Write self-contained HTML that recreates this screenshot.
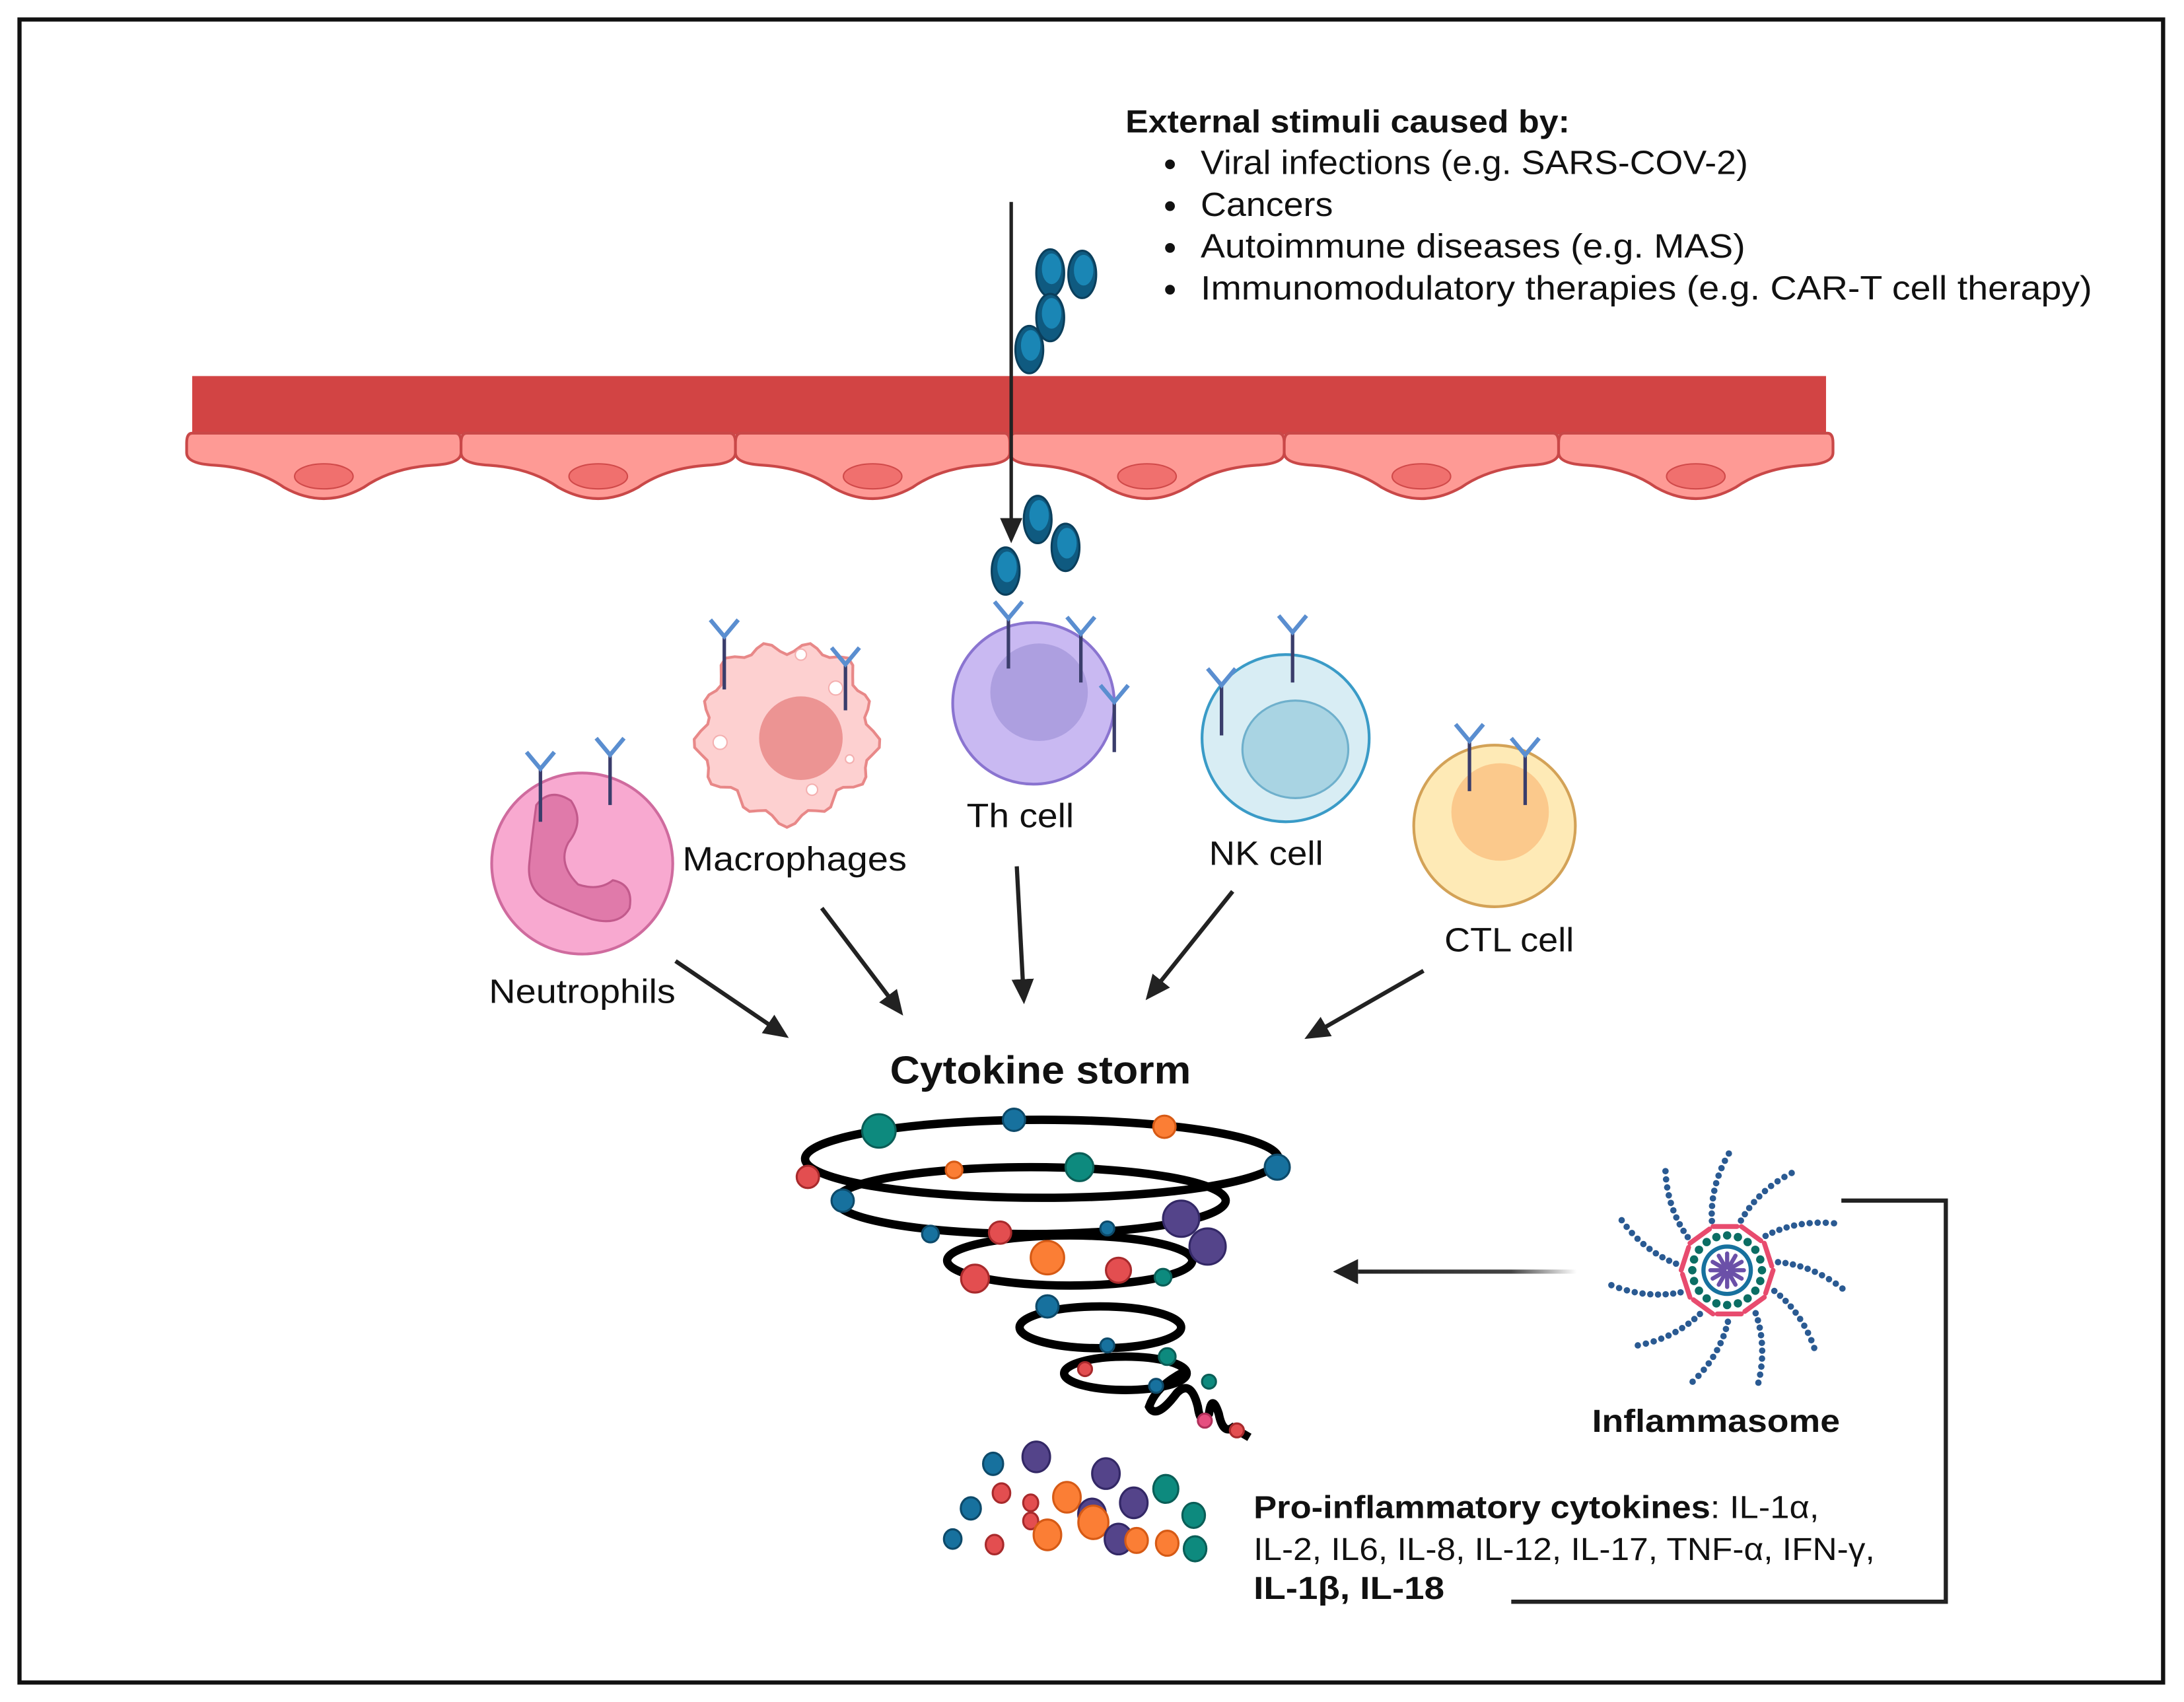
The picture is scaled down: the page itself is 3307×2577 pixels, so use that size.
<!DOCTYPE html>
<html><head><meta charset="utf-8"><style>
html,body{margin:0;padding:0;background:#fff}
svg{display:block}
text{font-family:"Liberation Sans",sans-serif;fill:#111}
</style></head><body>
<svg id="s" width="3307" height="2577" viewBox="0 0 1568 1222" preserveAspectRatio="none" xmlns="http://www.w3.org/2000/svg">
<defs>
<marker id="ah2" markerWidth="18" markerHeight="18" refX="14" refY="9" orient="auto" markerUnits="userSpaceOnUse" viewBox="0 0 18 18"><path d="M0,1 L18,9 L0,17 z" fill="#222"/></marker>
<linearGradient id="g1" gradientUnits="userSpaceOnUse" x1="975" y1="0" x2="1132" y2="0"><stop offset="0" stop-color="#222"/><stop offset="0.7" stop-color="#444"/><stop offset="1" stop-color="#fff"/></linearGradient>
</defs>
<rect x="14" y="14" width="1539" height="1194" fill="#fff" stroke="#111" stroke-width="3"/>

<text x="808" y="95" font-size="23" font-weight="bold" textLength="319" lengthAdjust="spacingAndGlyphs">External stimuli caused by:</text>
<g font-size="24">
<circle cx="840" cy="118" r="3.5" fill="#111"/><text x="862" y="125" textLength="393" lengthAdjust="spacingAndGlyphs">Viral infections (e.g. SARS-COV-2)</text>
<circle cx="840" cy="148" r="3.5" fill="#111"/><text x="862" y="155" textLength="95" lengthAdjust="spacingAndGlyphs">Cancers</text>
<circle cx="840" cy="178" r="3.5" fill="#111"/><text x="862" y="185" textLength="391" lengthAdjust="spacingAndGlyphs">Autoimmune diseases (e.g. MAS)</text>
<circle cx="840" cy="208" r="3.5" fill="#111"/><text x="862" y="215" textLength="640" lengthAdjust="spacingAndGlyphs">Immunomodulatory therapies  (e.g. CAR-T cell therapy)</text>
</g>

<rect x="138" y="270" width="1173" height="42" fill="#d24444"/>
<g id="cells"></g>

<line x1="726" y1="145" x2="726" y2="372" stroke="#222" stroke-width="2.5"/>
<path d="M718,372 L734,372 L726,390 z" fill="#222"/>

<g id="virus"></g>

<circle cx="418" cy="620" r="65" fill="#f8a9d0" stroke="#cf6b9e" stroke-width="2"/>
<path d="M385,578 Q395,565 410,575 Q420,590 408,605 Q400,620 415,635 Q430,640 440,632 Q455,635 452,652 Q445,665 425,660 Q410,655 395,648 Q378,640 380,620 Q382,600 385,578z" fill="#e07aaa" stroke="#c25a8c" stroke-width="1.5"/>
<path id="mac" fill="#fdd0d0" stroke="#e88888" stroke-width="2"/>
<circle cx="575" cy="530" r="30" fill="#ec9493"/>
<circle cx="517" cy="533" r="5" fill="#fff" stroke="#f4b0b0"/><circle cx="600" cy="494" r="5" fill="#fff" stroke="#f4b0b0"/><circle cx="575" cy="470" r="4" fill="#fff" stroke="#f4b0b0"/><circle cx="583" cy="567" r="4" fill="#fff" stroke="#f4b0b0"/><circle cx="610" cy="545" r="3" fill="#fff" stroke="#f4b0b0"/>
<circle cx="742" cy="505" r="58" fill="#c9b9f2" stroke="#8a74d0" stroke-width="2"/>
<circle cx="746" cy="497" r="35" fill="#ad9fe0"/>
<circle cx="923" cy="530" r="60" fill="#d8edf4" stroke="#3a9bc7" stroke-width="2"/>
<ellipse cx="930" cy="538" rx="38" ry="35" fill="#a9d4e3" stroke="#6fb0cc" stroke-width="1.5"/>
<circle cx="1073" cy="593" r="58" fill="#feeab6" stroke="#d3a257" stroke-width="2"/>
<circle cx="1077" cy="583" r="35" fill="#fbc98c"/>

<g id="rec"></g>

<g font-size="24">
<text x="351" y="720" textLength="134" lengthAdjust="spacingAndGlyphs">Neutrophils</text>
<text x="490" y="625" textLength="161" lengthAdjust="spacingAndGlyphs">Macrophages</text>
<text x="694" y="594" textLength="77" lengthAdjust="spacingAndGlyphs">Th cell</text>
<text x="868" y="621" textLength="82" lengthAdjust="spacingAndGlyphs">NK cell</text>
<text x="1037" y="683" textLength="93" lengthAdjust="spacingAndGlyphs">CTL cell</text>
</g>

<g stroke="#222" stroke-width="3" marker-end="url(#ah2)">
<line x1="485" y1="690" x2="563" y2="743"/>
<line x1="590" y1="652" x2="646" y2="726"/>
<line x1="730" y1="622" x2="735" y2="717"/>
<line x1="885" y1="640" x2="825" y2="715"/>
<line x1="1022" y1="697" x2="940" y2="744"/>
</g>

<text x="639" y="778" font-size="28" font-weight="bold" textLength="216" lengthAdjust="spacingAndGlyphs">Cytokine storm</text>

<g fill="none" stroke="#000" stroke-width="6">
<ellipse cx="748" cy="832" rx="170" ry="28"/>
<ellipse cx="740" cy="862" rx="140" ry="24"/>
<ellipse cx="768" cy="905" rx="88" ry="18"/>
<ellipse cx="790" cy="953" rx="58" ry="15"/>
<ellipse cx="808" cy="986" rx="44" ry="12"/>
<path d="M850,985 Q830,995 825,1010 Q830,1020 845,1000 Q855,990 860,1010 Q862,1025 868,1015 Q870,1000 875,1015 Q878,1030 885,1025 L897,1032"/>
</g>
<g id="dots"></g>
<g id="clus"></g>

<g id="infl"></g>
<text x="1143" y="1028" font-size="23" font-weight="bold" textLength="178" lengthAdjust="spacingAndGlyphs">Inflammasome</text>

<line x1="1132" y1="913" x2="975" y2="913" stroke="url(#g1)" stroke-width="3"/>
<path d="M975,904 L975,922 L957,913 z" fill="#222"/>
<path d="M1322,862 L1397,862 L1397,1150 L1085,1150" fill="none" stroke="#222" stroke-width="3"/>

<g font-size="23">
<text x="900" y="1090" textLength="406" lengthAdjust="spacingAndGlyphs"><tspan font-weight="bold">Pro-inflammatory cytokines</tspan>: IL-1α,</text>
<text x="900" y="1120" textLength="446" lengthAdjust="spacingAndGlyphs">IL-2, IL6, IL-8, IL-12, IL-17, TNF-α, IFN-γ,</text>
<text x="900" y="1148" font-weight="bold" textLength="137" lengthAdjust="spacingAndGlyphs">IL-1β, IL-18</text>
</g>
</svg>
<script>
const NS="http://www.w3.org/2000/svg";
function el(p,t,a){const e=document.createElementNS(NS,t);for(const k in a)e.setAttribute(k,a[k]);p.appendChild(e);return e;}
const cg=document.getElementById('cells');
for(let i=0;i<6;i++){const x=134+i*197,w=197;
el(cg,'path',{d:`M${x+4},311 L${x+w-4},311 Q${x+w},311 ${x+w},318 L${x+w},325 Q${x+w},333 ${x+w-20},334 Q${x+w-50},336 ${x+w-70},350 Q${x+w/2},366 ${x+70},350 Q${x+50},336 ${x+20},334 Q${x},333 ${x},325 L${x},318 Q${x},311 ${x+4},311z`,fill:'#fe9a95',stroke:'#c94848','stroke-width':2});
el(cg,'ellipse',{cx:x+w/2,cy:342,rx:21,ry:9,fill:'#f0706e',stroke:'#d04a4a','stroke-width':1});}
const vg=document.getElementById('virus');
[[754,196],[777,197],[754,228],[739,251],[745,373],[765,393],[722,410]].forEach(([x,y])=>{
el(vg,'ellipse',{cx:x,cy:y,rx:10,ry:17,fill:'#0f5a80',stroke:'#0b3f5c','stroke-width':1.5});
el(vg,'ellipse',{cx:x+1,cy:y-3,rx:7,ry:11,fill:'#1a86b5'});});
let d='';for(let i=0;i<=72;i++){const a=i/72*2*Math.PI;const r=62+4*Math.sin(a*13)+3*Math.sin(a*5);const x=565+r*Math.cos(a),y=525+r*Math.sin(a);d+=(i?'L':'M')+x.toFixed(1)+','+y.toFixed(1);}
document.getElementById('mac').setAttribute('d',d+'z');
const rg=document.getElementById('rec');
[[388,545,590],[438,535,578],[520,450,495],[607,470,510],[724,437,480],[776,448,490],[800,497,540],[877,485,528],[928,447,490],[1055,525,568],[1095,535,578]].forEach(([x,y1,y2])=>{
el(rg,'line',{x1:x,y1:y1+7,x2:x,y2:y2,stroke:'#3a3d6b','stroke-width':2.5});
el(rg,'path',{d:`M${x-10},${y1-5} L${x},${y1+7} L${x+10},${y1-5}`,fill:'none',stroke:'#5a8ed0','stroke-width':3});});
const C={t:'#0d8a7e',b:'#17719e',o:'#fb7e35',r:'#e34e50',p:'#54448a',k:'#e64f80'};
const S={t:'#0a5e57',b:'#0d4a6a',o:'#d65a15',r:'#a82a2c',p:'#332866',k:'#b0305a'};
const dg=document.getElementById('dots');
[['t',631,812,12],['b',728,804,8],['o',836,809,8],['b',917,838,9],['r',580,845,8],['o',685,840,6],['t',775,838,10],['b',605,862,8],['b',668,886,6],['r',718,885,8],['b',795,882,5],['p',848,875,13],['p',867,895,13],['o',752,903,12],['r',700,918,10],['r',803,912,9],['t',835,917,6],['b',752,938,8],['b',795,966,5],['t',838,974,6],['r',779,983,5],['t',868,992,5],['b',830,995,5],['k',865,1020,5],['r',888,1027,5]].forEach(([c,x,y,r])=>el(dg,'circle',{cx:x,cy:y,r:r,fill:C[c],stroke:S[c],'stroke-width':1.5}));
const kg=document.getElementById('clus');
[['b',713,1051,8],['p',744,1046,11],['p',794,1058,11],['t',837,1069,10],['r',719,1072,7],['b',697,1083,8],['r',740,1079,6],['o',766,1075,11],['p',784,1087,11],['p',814,1079,11],['t',857,1088,9],['r',740,1092,6],['o',785,1093,12],['o',752,1102,11],['p',803,1105,11],['o',816,1106,9],['o',838,1108,9],['t',858,1112,9],['b',684,1105,7],['r',714,1109,7]].forEach(([c,x,y,r])=>el(kg,'ellipse',{cx:x,cy:y,rx:r*0.9,ry:r,fill:C[c],stroke:S[c],'stroke-width':1.5}));
const ig=document.getElementById('infl');const cx=1240,cy=912;
for(let i=0;i<11;i++){const a=i/11*2*Math.PI-1.3;for(let j=0;j<10;j++){const r=37+j*5.2;const b=a+j*0.035;el(ig,'circle',{cx:cx+r*Math.cos(b),cy:cy+r*Math.sin(b),r:2.3,fill:'#2a5a92'});}}
const pts=[];for(let i=0;i<10;i++){const a=i/10*2*Math.PI;pts.push([cx+33*Math.cos(a),cy+33*Math.sin(a)]);}
for(let i=0;i<10;i++){const p=pts[i],q=pts[(i+1)%10];el(ig,'line',{x1:p[0],y1:p[1],x2:q[0]*0.85+p[0]*0.15,y2:q[1]*0.85+p[1]*0.15,stroke:'#e84b6e','stroke-width':3.5,'stroke-linecap':'round'});}
for(let i=0;i<20;i++){const a=i/20*2*Math.PI;el(ig,'circle',{cx:cx+25*Math.cos(a),cy:cy+25*Math.sin(a),r:3,fill:'#0b6e64'});}
el(ig,'circle',{cx:cx,cy:cy,r:17,fill:'none',stroke:'#17719e','stroke-width':3});
for(let i=0;i<12;i++){const a=i/12*2*Math.PI;el(ig,'line',{x1:cx+2*Math.cos(a),y1:cy+2*Math.sin(a),x2:cx+12*Math.cos(a),y2:cy+12*Math.sin(a),stroke:'#6b50a8','stroke-width':3,'stroke-linecap':'round'});}
</script>
</body></html>
